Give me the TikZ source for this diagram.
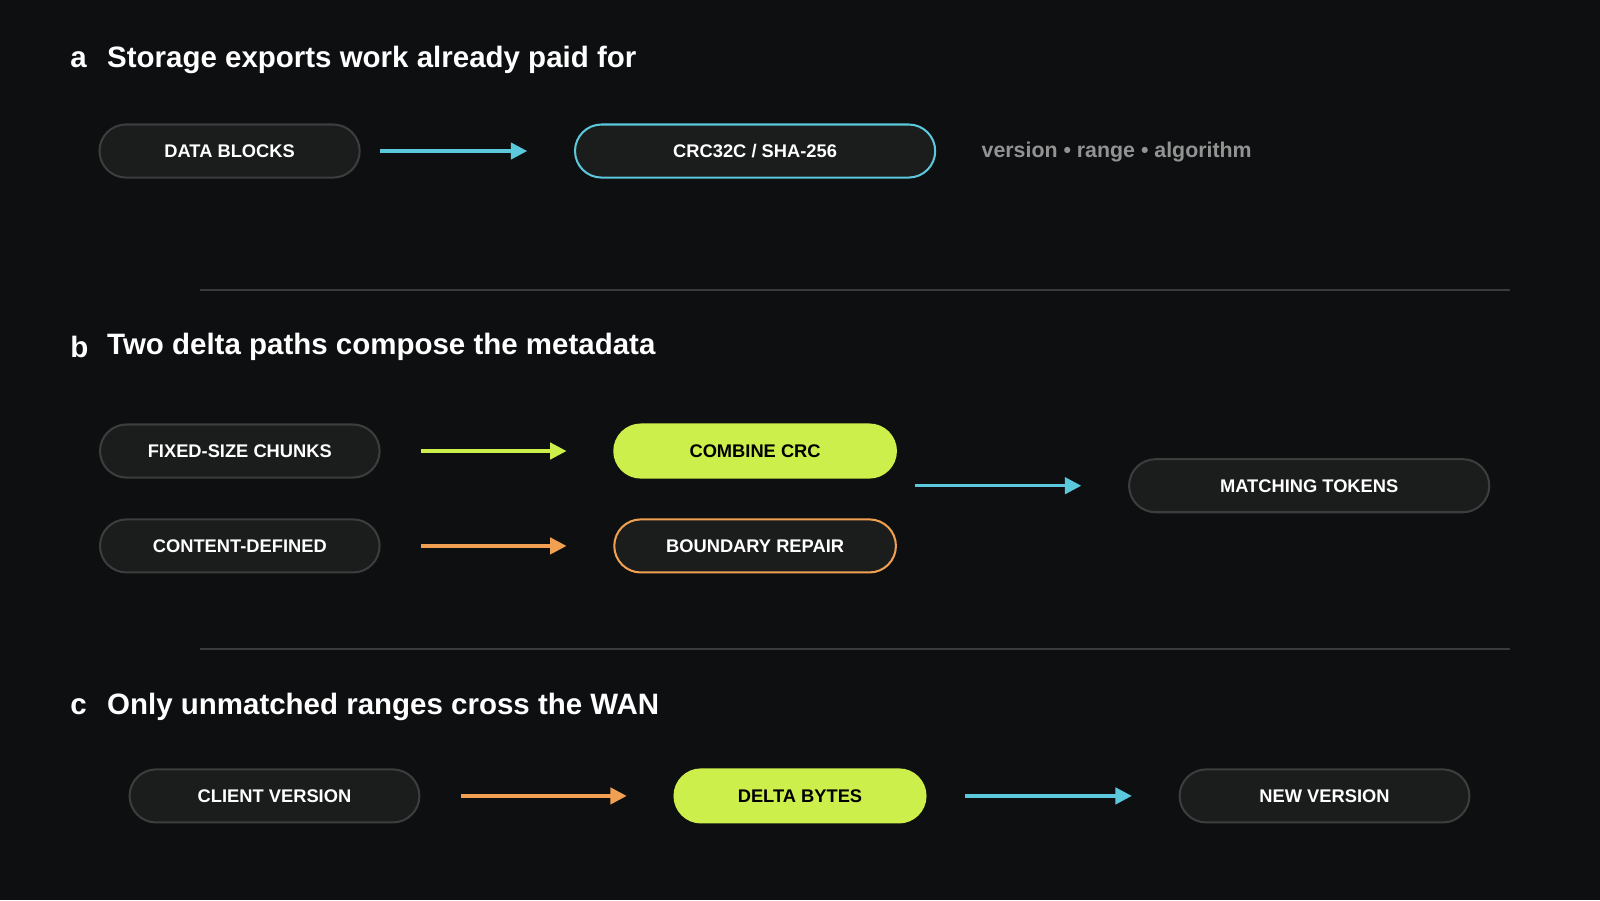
\documentclass[tikz,border=0pt]{standalone}
\usepackage{fontspec}
\setmainfont{Liberation Sans}
\usetikzlibrary{arrows.meta}
\definecolor{bg}{HTML}{0E0F11}
\definecolor{nfill}{HTML}{1B1C1C}
\definecolor{nbord}{HTML}{3C3D3D}
\definecolor{cy}{HTML}{5BC8DC}
\definecolor{lime}{HTML}{CDEF4B}
\definecolor{ora}{HTML}{F0A050}
\definecolor{sep}{HTML}{3A3B3C}
\begin{document}
\begin{tikzpicture}[x=0.5bp,y=-0.5bp,
  pill/.style={rounded corners=13bp,draw=nbord,fill=nfill,line width=1bp,text=white,font=\fontsize{9}{10}\selectfont\bfseries,minimum height=26bp,inner sep=0pt},
  hl/.style={pill,draw=lime,fill=lime,text=black},
  title/.style={text=white,font=\fontsize{14.5}{16}\selectfont\bfseries,anchor=west},
  arr/.style={line width=1.6bp,-{Triangle[length=8bp,width=8bp]}},
  sepl/.style={draw=sep,line width=0.8bp}]
\fill[bg] (0,0) rectangle (1568,882);
% a
\node[title] (la) at (62,59) {a};
\node[title] (ta) at (98,59) {Storage exports work already paid for};
\node[pill,minimum width=127.5bp] (db) at (225,148) {DATA BLOCKS};
\node[pill,draw=cy,minimum width=176.5bp] (crc) at (740,148) {CRC32C / SHA-256};
\node[anchor=west,text=gray!85,font=\fontsize{10.5}{12}\selectfont\bfseries] (meta) at (955,149) {version • range • algorithm};
\draw[arr,cy] (db.east)++(19,0) coordinate (s1) -- ([xshift=-23]crc.west);
\draw[sepl] (196,284) coordinate (l1a) -- (1480,284) coordinate (l1b);
% b
\node[title] (lb) at (62,340) {b};
\node[title] (tb) at (98,340) {Two delta paths compose the metadata};
\node[pill,minimum width=137bp] (fx) at (235,442) {FIXED-SIZE CHUNKS};
\node[pill,minimum width=137bp] (cd) at (235,535) {CONTENT-DEFINED};
\node[hl,minimum width=138bp] (cc) at (740,442) {COMBINE CRC};
\node[pill,draw=ora,minimum width=138bp] (br) at (740,535) {BOUNDARY REPAIR};
\node[pill,minimum width=176.5bp] (mt) at (1283,476) {MATCHING TOKENS};
\draw[arr,lime] ([xshift=20]fx.east) -- ([xshift=-23]cc.west);
\draw[arr,ora] ([xshift=20]cd.east) -- ([xshift=-23]br.west);
\draw[arr,cy] (897,476) coordinate (s2) -- ([xshift=-23]mt.west);
\draw[sepl] (196,636) coordinate (l2a) -- (1480,636) coordinate (l2b);
% c
\node[title] (lc) at (62,693) {c};
\node[title] (tc) at (98,693) {Only unmatched ranges cross the WAN};
\node[pill,minimum width=142bp] (cv) at (269,780) {CLIENT VERSION};
\node[hl,minimum width=123bp] (dl) at (784,780) {DELTA BYTES};
\node[pill,minimum width=142bp] (nv) at (1298,780) {NEW VERSION};
\draw[arr,ora] ([xshift=20]cv.east) -- ([xshift=-23]dl.west);
\draw[arr,cy] ([xshift=19]dl.east) -- ([xshift=-23]nv.west);
\end{tikzpicture}
\end{document}
